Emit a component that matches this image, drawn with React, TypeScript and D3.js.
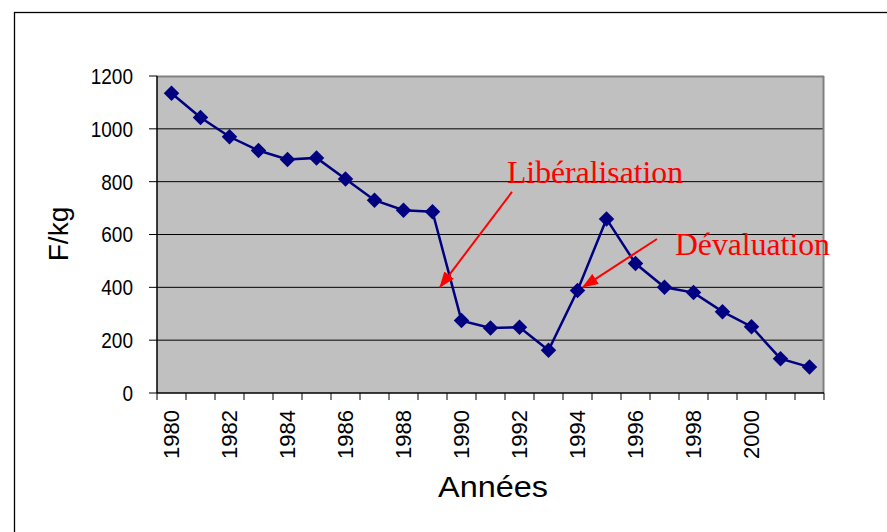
import React from 'react';
import * as d3 from 'd3';

// Prix (F/kg) par année
const years = d3.range(1980, 2003);
const prices = [
  1135, 1043, 970, 918, 884, 890, 810, 730, 692, 686, 274, 246, 249, 162,
  388, 659, 490, 400, 380, 308, 251, 130, 98,
];
const yTicks = [0, 200, 400, 600, 800, 1000, 1200];
const xTickLabels = years.filter((y) => (y - 1980) % 2 === 0 && y <= 2000);

// annotations in data units: [year, value]
const annotationLabels = ['Libéralisation', 'Dévaluation'];
const annotationText = [
  [1991.57, 795],
  [1997.36, 522],
];
const annotationArrowFrom = [
  [1991.74, 761],
  [1996.74, 583],
];
const annotationArrowTo = [
  [1989.26, 401],
  [1994.19, 401],
];

const W = 887;
const H = 532;
const margin = { top: 76, right: 63, bottom: 139, left: 157 };
const innerW = W - margin.left - margin.right;
const innerH = H - margin.top - margin.bottom;

const NAVY = '#000080';

export default function App() {
  const x = d3
    .scaleBand<number>()
    .domain(years)
    .range([0, innerW])
    .paddingInner(0)
    .paddingOuter(0);
  const step = x.step();
  const xc = (yr: number) => (x(yr) as number) + step / 2;
  // continuous position for annotations
  const xf = d3
    .scaleLinear()
    .domain([1980, 2002])
    .range([step / 2, innerW - step / 2]);
  const y = d3.scaleLinear().domain([0, 1200]).range([innerH, 0]);

  const line = d3
    .line<number>()
    .x((_, i) => xc(years[i]))
    .y((d) => y(d));

  // rotated square marker
  const marker = d3.symbol(d3.symbolSquare, 120)();

  return (
    <svg
      width={W}
      height={H}
      style={{ position: 'absolute', left: 0, top: 0, background: '#fff' }}
      fontFamily="'Liberation Sans', Arial, sans-serif"
    >
      <defs>
        <marker
          id="arrowRed"
          viewBox="0 0 16 12"
          refX="15"
          refY="6"
          markerWidth="16"
          markerHeight="12"
          orient="auto"
          markerUnits="userSpaceOnUse"
        >
          <path d="M0,0 L16,6 L0,12 z" fill="#ff0000" />
        </marker>
      </defs>

      {/* outer frame */}
      <rect x={14.5} y={12.5} width={W + 20} height={H} fill="none" stroke="#000" strokeWidth={1.3} />

      <g transform={`translate(${margin.left},${margin.top})`}>
        {/* plot area */}
        <rect x={0} y={0} width={innerW} height={innerH} fill="#c0c0c0" />
        {yTicks
          .filter((t) => t > 0 && t < 1200)
          .map((t) => (
            <line key={t} x1={0} x2={innerW} y1={y(t)} y2={y(t)} stroke="#000" strokeWidth={1} />
          ))}
        <line x1={0} x2={innerW} y1={0.5} y2={0.5} stroke="#808080" strokeWidth={2} />
        <line x1={innerW - 0.5} x2={innerW - 0.5} y1={0} y2={innerH} stroke="#808080" strokeWidth={2} />

        {/* axes */}
        <line x1={0} x2={0} y1={0} y2={innerH} stroke="#000" strokeWidth={1.5} />
        <line x1={0} x2={innerW} y1={innerH} y2={innerH} stroke="#000" strokeWidth={1.5} />
        {yTicks.map((t) => (
          <g key={t} transform={`translate(0,${y(t)})`}>
            <line x1={-8} x2={0} stroke="#000" strokeWidth={1} />
            <text
              x={-24}
              dy="0.36em"
              textAnchor="end"
              fontSize={19}
              transform="scale(1,1.15)"
              style={{ transformBox: 'fill-box', transformOrigin: 'center' }}
              fill="#000"
            >
              {t}
            </text>
          </g>
        ))}
        {d3.range(years.length + 1).map((i) => (
          <line
            key={i}
            x1={i * step}
            x2={i * step}
            y1={innerH}
            y2={innerH + 7}
            stroke="#000"
            strokeWidth={1}
          />
        ))}
        {xTickLabels.map((yr) => (
          <text
            key={yr}
            transform={`translate(${xc(yr)},${innerH + 17}) rotate(-90)`}
            textAnchor="end"
            dy="0.36em"
            fontSize={22}
            fill="#000"
          >
            {yr}
          </text>
        ))}

        {/* series */}
        <path d={line(prices) || ''} fill="none" stroke={NAVY} strokeWidth={2.5} />
        {prices.map((v, i) => (
          <path
            key={i}
            d={marker || ''}
            transform={`translate(${xc(years[i])},${y(v)}) rotate(45)`}
            fill={NAVY}
          />
        ))}

        {/* annotations */}
        {annotationLabels.map((lab, i) => (
          <g key={lab}>
            <line
              x1={xf(annotationArrowFrom[i][0])}
              y1={y(annotationArrowFrom[i][1])}
              x2={xf(annotationArrowTo[i][0])}
              y2={y(annotationArrowTo[i][1])}
              stroke="#ff0000"
              strokeWidth={2}
              markerEnd="url(#arrowRed)"
            />
            <text
              x={xf(annotationText[i][0])}
              y={y(annotationText[i][1])}
              fontFamily="'Liberation Serif', 'Times New Roman', serif"
              fontSize={31}
              textLength={i === 0 ? 176 : 155}
              lengthAdjust="spacingAndGlyphs"
              fill="#ff0000"
            >
              {lab}
            </text>
          </g>
        ))}
      </g>

      {/* axis titles */}
      <text
        transform="translate(68,234) rotate(-90)"
        textAnchor="middle"
        fontSize={28}
        fill="#000"
      >
        F/kg
      </text>
      <text
        x={438}
        y={497}
        fontSize={29}
        textLength={110}
        lengthAdjust="spacingAndGlyphs"
        fill="#000"
      >
        Années
      </text>
    </svg>
  );
}
